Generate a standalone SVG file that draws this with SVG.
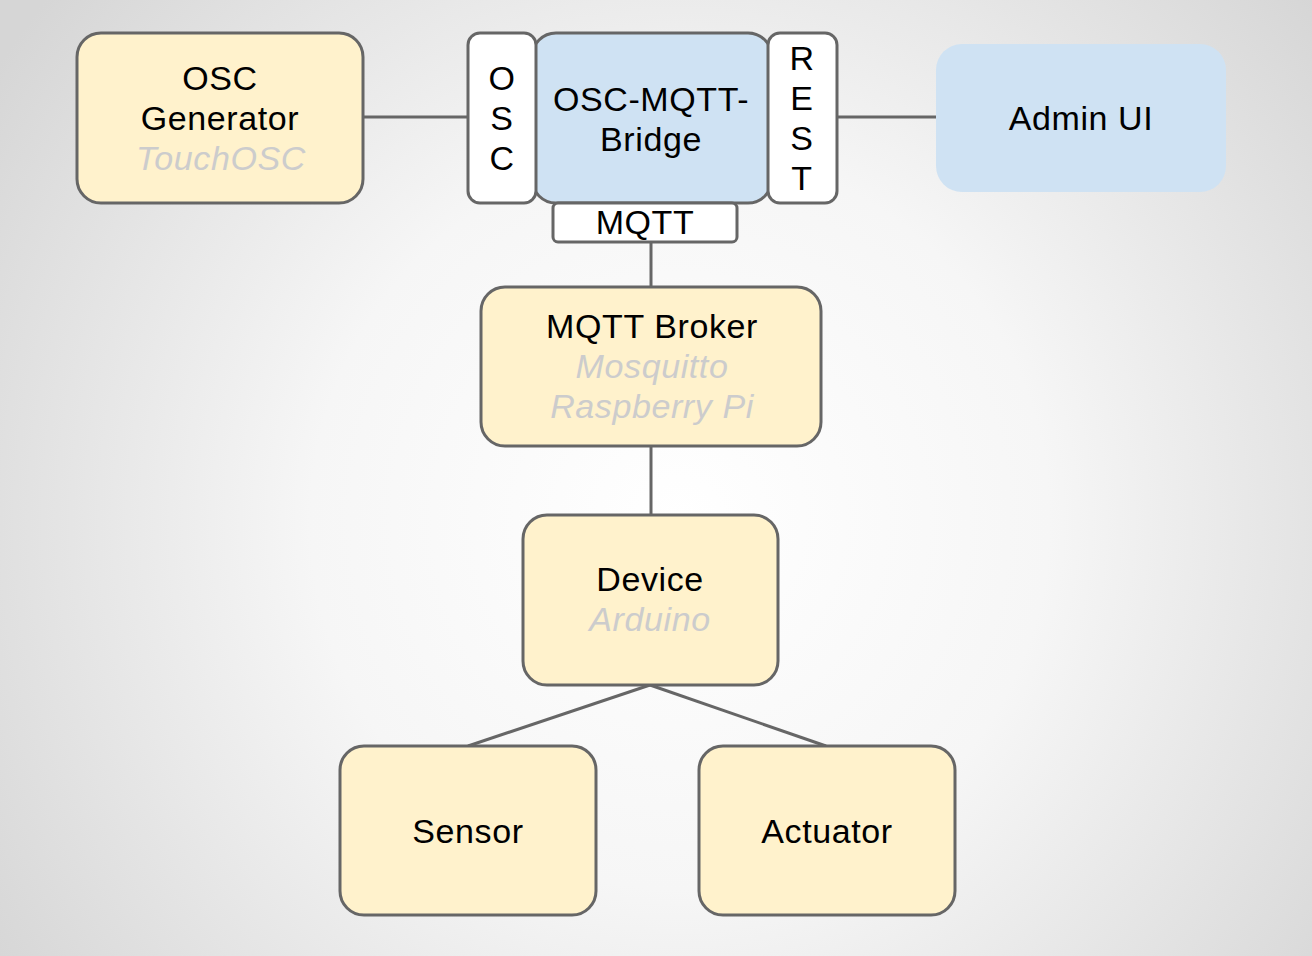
<svg xmlns="http://www.w3.org/2000/svg" width="1312" height="956" viewBox="0 0 1312 956">
<defs>
<radialGradient id="bg" cx="680" cy="520" r="820" gradientUnits="userSpaceOnUse">
<stop offset="0" stop-color="#ffffff"/>
<stop offset="0.45" stop-color="#f6f6f6"/>
<stop offset="1" stop-color="#d6d6d6"/>
</radialGradient>
</defs>
<style>
.y{fill:#fff2cc;stroke:#666666;stroke-width:3}
.b{fill:#cfe2f3;stroke:#666666;stroke-width:3}
.w{fill:#ffffff;stroke:#666666;stroke-width:3}
.t{font-family:"Liberation Sans",Arial,sans-serif;font-size:34px;letter-spacing:0.6px;fill:#000;text-anchor:middle}
.s{font-family:"Liberation Sans",Arial,sans-serif;font-size:34px;letter-spacing:0.6px;fill:#cccccc;font-style:italic;text-anchor:middle}
.c line{stroke:#666666;stroke-width:3}
</style>
<rect width="1312" height="956" fill="url(#bg)"/>
<g class="c" id="connectors">
<line x1="363" y1="117" x2="468" y2="117"/>
<line x1="837" y1="117" x2="936" y2="117"/>
<line x1="651" y1="242" x2="651" y2="287"/>
<line x1="651" y1="446" x2="651" y2="515"/>
<line x1="650" y1="685" x2="468" y2="746"/>
<line x1="650" y1="685" x2="826" y2="746"/>
</g>
<g id="osc-generator">
<rect class="y" x="77" y="33" width="286" height="170" rx="24"/>
<text class="t" x="220" y="90">OSC</text>
<text class="t" x="220" y="130">Generator</text>
<text class="s" x="221" y="170">TouchOSC</text>
</g>
<g id="bridge">
<rect class="b" x="532" y="33" width="240" height="170" rx="24"/>
<text class="t" x="651" y="111">OSC-MQTT-</text>
<text class="t" x="651" y="151">Bridge</text>
</g>
<g id="osc-port">
<rect class="w" x="468" y="33" width="68" height="170" rx="12"/>
<text class="t" x="502" y="90">O</text>
<text class="t" x="502" y="130">S</text>
<text class="t" x="502" y="170">C</text>
</g>
<g id="rest-port">
<rect class="w" x="768" y="33" width="69" height="170" rx="12"/>
<text class="t" x="802" y="70">R</text>
<text class="t" x="802" y="110">E</text>
<text class="t" x="802" y="150">S</text>
<text class="t" x="802" y="190">T</text>
</g>
<g id="mqtt-port">
<rect class="w" x="553" y="203" width="184" height="39" rx="5"/>
<text class="t" x="645" y="234">MQTT</text>
</g>
<g id="admin-ui">
<rect x="936" y="44" width="290" height="148" rx="26" fill="#cfe2f3"/>
<text class="t" x="1081" y="130">Admin UI</text>
</g>
<g id="mqtt-broker">
<rect class="y" x="481" y="287" width="340" height="159" rx="24"/>
<text class="t" x="652" y="338">MQTT Broker</text>
<text class="s" x="652" y="378">Mosquitto</text>
<text class="s" x="652" y="418">Raspberry Pi</text>
</g>
<g id="device">
<rect class="y" x="523" y="515" width="255" height="170" rx="24"/>
<text class="t" x="650" y="591">Device</text>
<text class="s" x="650" y="631">Arduino</text>
</g>
<g id="sensor">
<rect class="y" x="340" y="746" width="256" height="169" rx="24"/>
<text class="t" x="468" y="843">Sensor</text>
</g>
<g id="actuator">
<rect class="y" x="699" y="746" width="256" height="169" rx="24"/>
<text class="t" x="827" y="843">Actuator</text>
</g>
</svg>
